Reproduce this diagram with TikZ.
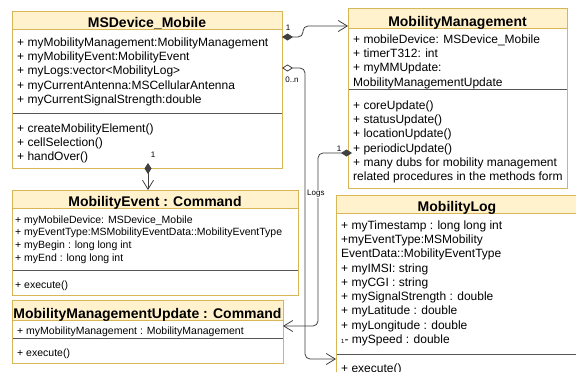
\documentclass[tikz,border=0pt]{standalone}
\usepackage{fontspec}
\setmainfont{Liberation Sans}
\usetikzlibrary{arrows.meta}

\definecolor{hdrfill}{HTML}{FFF2CC}
\definecolor{hdrline}{HTML}{D6B656}
\definecolor{sepline}{HTML}{555555}
\definecolor{wirecol}{HTML}{404040}

\tikzset{
  classbox/.style={draw=hdrline, line width=0.8pt, fill=white, rectangle,
    inner sep=0pt, outer sep=0pt, anchor=north west},
  classtitle/.style={font=\fontsize{14}{16}\selectfont\bfseries, anchor=base, inner sep=0pt},
  rows/.style={font=\fontsize{12}{14.25}\selectfont, align=left, anchor=north west, inner sep=0pt},
  smallrows/.style={font=\fontsize{10.5}{12.7}\selectfont, align=left, anchor=north west, inner sep=0pt},
  wire/.style={draw=wirecol, line width=0.8pt, rounded corners=5pt},
  mult/.style={font=\fontsize{8}{9}\selectfont, inner sep=0.5pt},
  fdiamond/.tip={Diamond[length=11pt,width=7pt]},
  odiamond/.tip={Diamond[open,fill=white,length=11pt,width=7pt]},
  barb/.tip={Straight Barb[length=9pt,width=11pt]},
}

% class box: name, x, y, width, height, header height, separator offset
\newcommand\umlclass[7]{%
  \node[classbox, minimum width=#4pt, minimum height=#5pt] (#1) at (#2,#3) {};
  \fill[hdrfill] ([shift={(0.4pt,-0.4pt)}]#1.north west) rectangle ([shift={(-0.4pt,-#6pt)}]#1.north east);
  \draw[hdrline, line width=0.6pt] ([yshift=-#6pt]#1.north west) -- ([yshift=-#6pt]#1.north east);
  \draw[sepline, line width=0.6pt] ([yshift=-#7pt]#1.north west) -- ([yshift=-#7pt]#1.north east);
  \draw[hdrline, line width=0.8pt] (#1.north west) rectangle (#1.south east);
}

\begin{document}
\begin{tikzpicture}[x=1pt, y=-1pt]
\useasboundingbox[fill=white] (0,0) rectangle (576,372);

% classes
\umlclass{msd}{12}{11}{270}{157}{18}{102}
\umlclass{mm}{348}{8}{219}{180}{20}{81}
\umlclass{me}{12}{190}{286}{105}{18}{80}
\umlclass{mmu}{12}{300}{271}{63}{20}{38}
\umlclass{ml}{336}{195}{242}{190}{18}{159}

% titles
\node[classtitle] (msd-t) at (147,27.5) {MSDevice\_Mobile};
\node[classtitle] (mm-t) at (457.5,26.5) {MobilityManagement};
\node[classtitle] (me-t) at (155,206.5) {MobilityEvent : Command};
\node[classtitle] (mmu-t) at (147.5,318) {MobilityManagementUpdate : Command};
\node[classtitle] (ml-t) at (457,211.5) {MobilityLog};

% compartments
\node[rows] (msd-a) at (17,37.6) {+ myMobilityManagement:MobilityManagement\\
+ myMobilityEvent:MobilityEvent\\
+ myLogs:vector<MobilityLog>\\
+ myCurrentAntenna:MSCellularAntenna\\
+ myCurrentSignalStrength:double};
\node[rows] (msd-o) at (17,123.6) {+ createMobilityElement()\\
+ cellSelection()\\
+ handOver()};

\node[rows] (mm-a) at (353,34.6) {+ mobileDevice: MSDevice\_Mobile\\
+ timerT312: int\\
+ myMMUpdate:\\
MobilityManagementUpdate};
\node[rows] (mm-o) at (353,100.6) {+ coreUpdate()\\
+ statusUpdate()\\
+ locationUpdate()\\
+ periodicUpdate()\\
+ many dubs for mobility management\\
related procedures in the methods form};

\node[smallrows] (me-a) at (15,215.2) {+ myMobileDevice: MSDevice\_Mobile\\
+ myEventType:MSMobilityEventData::MobilityEventType\\
+ myBegin : long long int\\
+ myEnd : long long int};
\node[smallrows] (me-o) at (15,280.2) {+ execute()};

\node[smallrows] (mmu-a) at (17,326.2) {+ myMobilityManagement : MobilityManagement};
\node[smallrows] (mmu-o) at (17,348.2) {+ execute()};

\node[rows] (ml-a) at (341,220.6) {+ myTimestamp : long long int\\
+myEventType:MSMobility\\
EventData::MobilityEventType\\
+ myIMSI: string\\
+ myCGI : string\\
+ mySignalStrength : double\\
+ myLatitude : double\\
+ myLongitude : double\\
{\fontsize{6}{7}\selectfont 1}- mySpeed : double};
\node[rows] (ml-o) at (341,363.6) {+ execute()};

% associations
\draw[wire, {fdiamond}-{barb}] ([yshift=-26pt]msd.north east) -- ++(21,0) |- ([yshift=-18pt]mm.north west);
\draw[wire, {odiamond}-{barb}] ([yshift=-57pt]msd.north east) -- ++(23,0) |- ([yshift=-164pt]ml.north west);
\draw[wire, {fdiamond}-{barb}] ([shift={(4pt,-145pt)}]mm.north west) -- ++(-34,0) |- ([yshift=-26pt]mmu.north east);
\draw[wire, {fdiamond}-{barb}] ([shift={(136pt,5pt)}]msd.south west) -- ([xshift=136pt]me.north west);

% multiplicities and role
\node[mult] (m1) at (288,28) {1};
\node[mult] (m2) at (292,80) {0..n};
\node[mult] (m3) at (339,149) {1};
\node[mult] (m4) at (153,155) {1};
\node[mult, fill=white, anchor=west] (logs) at (306.5,194) {Logs};
\end{tikzpicture}
\end{document}
